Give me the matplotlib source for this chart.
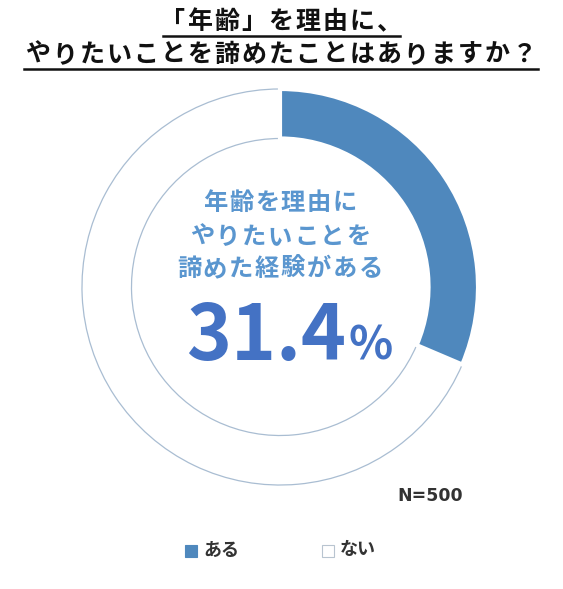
import matplotlib
matplotlib.use("Agg")
import matplotlib.pyplot as plt
from matplotlib.lines import Line2D

plt.rcParams['font.family'] = ['Noto Sans CJK JP', 'DejaVu Sans']

TITLE_LINES = ["「年齢」を理由に、", "やりたいことを諦めたことはありますか？"]
LABELS = ["ある", "ない"]
VALUES = [31.4, 68.6]
COLORS = ["#4f88bd", "white"]
CENTER_LINES = ["年齢を理由に", "やりたいことを", "諦めた経験がある"]
N_TEXT = "N=500"

W, H = 563, 589
DPI = 100


def px(x, y):
    return x / W, 1 - y / H


def spaced_text(fig, cx, cy, text, pitch, **kw):
    # draw each character at a fixed pitch (letter-spaced text)
    n = len(text)
    x0 = cx - pitch * (n - 1) / 2
    for i, ch in enumerate(text):
        fig.text(*px(x0 + i * pitch, cy), ch, ha="center", va="center", **kw)


fig = plt.figure(figsize=(W / DPI, H / DPI), dpi=DPI)

# donut
ax = fig.add_axes([80 / W, 1 - 487 / H, 400 / W, 400 / H])
wedges, _ = ax.pie(VALUES, colors=COLORS, startangle=90, counterclock=False,
                   radius=1.0, wedgeprops=dict(width=0.25, linewidth=1.0))
wedges[0].set_edgecolor("white")
wedges[0].set_linewidth(3.0)
wedges[0].set_zorder(3)
wedges[1].set_edgecolor("#a9bdd2")
wedges[1].set_linewidth(0.9)
ax.set_xlim(-1.01, 1.01)
ax.set_ylim(-1.01, 1.01)
ax.set_aspect("equal")
ax.axis("off")

# title with underline
title_rows = [(22, TITLE_LINES[0], 163, 400, 36), (55, TITLE_LINES[1], 24, 538, 69)]
for (ty, line, x0, x1, uy) in title_rows:
    spaced_text(fig, 281, ty, line, 27, fontsize=18, fontweight="bold", color="#111111")
    fig.add_artist(Line2D([x0 / W, x1 / W], [1 - uy / H, 1 - uy / H],
                          color="#111111", lw=1.8))

# center text
for cy, line in zip([203, 237, 269], CENTER_LINES):
    spaced_text(fig, 280, cy, line, 26, fontsize=17.5, fontweight="bold", color="#5a96cf")

fig.text(*px(346, 337), f"{VALUES[0]}", ha="right", va="center", fontsize=55,
         fontweight="bold", color="#4472c4")
fig.text(*px(348, 347), "%", ha="left", va="center", fontsize=33,
         fontweight="bold", color="#4472c4")

fig.text(*px(430, 496), N_TEXT, ha="center", va="center", fontsize=12.5,
         fontweight="bold", color="#333333", family=['DejaVu Sans'])

# legend
leg_items = [(191, 551, COLORS[0], LABELS[0]), (328, 551, COLORS[1], LABELS[1])]
for (lx, ly, c, lab) in leg_items:
    fig.add_artist(plt.Rectangle(px(lx - 6, ly + 6), 12 / W, 12 / H, facecolor=c,
                                 edgecolor="#4f88bd" if c != "white" else "#b8c4d0",
                                 lw=0.8, transform=fig.transFigure))
    fig.text(*px(lx + 12, ly - 1), lab, ha="left", va="center", fontsize=13,
             fontweight="bold", color="#333333")

fig.savefig("out.png", dpi=DPI)
